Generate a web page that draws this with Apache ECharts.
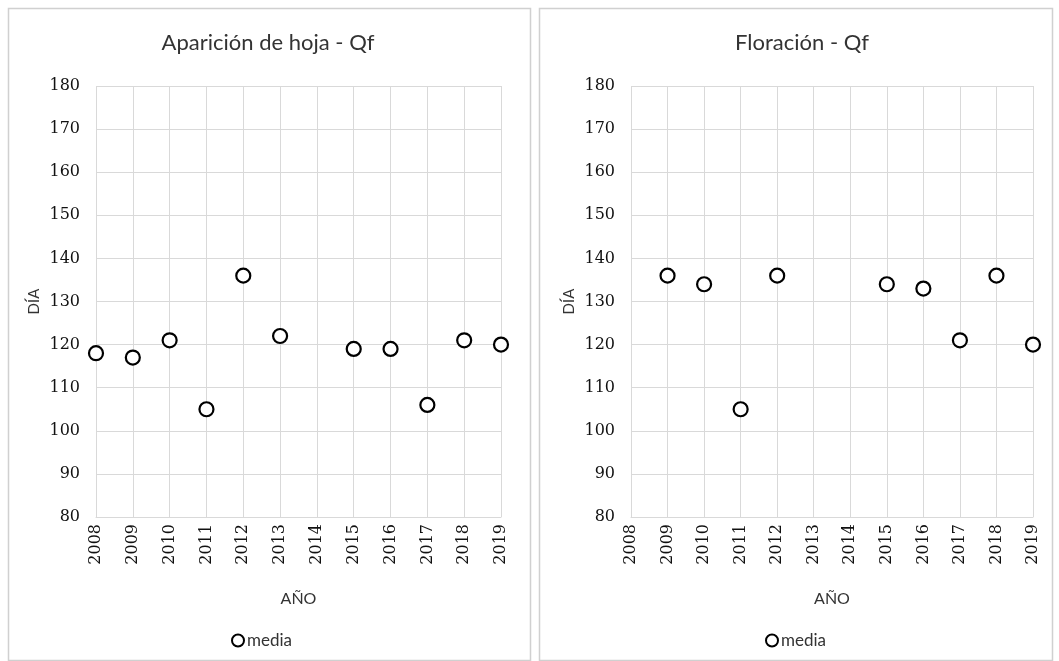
<!DOCTYPE html>
<html>
<head>
<meta charset="utf-8">
<script src="https://cdn.jsdelivr.net/npm/echarts@6/dist/echarts.min.js"></script>
<style>
  html, body { margin: 0; padding: 0; background: #ffffff; }
  #chart { width: 1059px; height: 661px; }
</style>
</head>
<body>
<div id="chart"></div>
<script>
// Years on the horizontal axis (shared by both panels)
const years = ['2008', '2009', '2010', '2011', '2012', '2013', '2014', '2015', '2016', '2017', '2018', '2019'];

// Mean day of year for leaf appearance ('-' = no record)
const hojaMedia = [118, 117, 121, 105, 136, 122, '-', 119, 119, 106, 121, 120];

// Mean day of year for flowering ('-' = no record)
const floracionMedia = ['-', 136, 134, 105, 136, '-', '-', 134, 133, 121, 136, 120];

// Panel titles and axis names
const titles = ['Aparición de hoja - Qf', 'Floración - Qf'];
const yName = 'DÍA';
const xName = 'AÑO';
const seriesName = 'media';

const labelFont = 'DejaVu Serif';
const textFont = 'Lato';
const gridColor = '#d9d9d9';

const panels = [
  { grid: { left: 96, right: 1059 - 501, top: 86, bottom: 661 - 517 }, data: hojaMedia, cx: 263, box: [8, 8, 522, 652] },
  { grid: { left: 631, right: 1059 - 1033, top: 86, bottom: 661 - 517 }, data: floracionMedia, cx: 797, box: [539, 8, 513, 652] }
];

const option = {
  backgroundColor: '#ffffff',
  animation: false,
  title: panels.map((p, i) => ({
    text: titles[i],
    left: p.cx, top: 27, textAlign: 'center',
    textStyle: { fontFamily: textFont, fontSize: 22, fontWeight: 'normal', color: '#333333' }
  })),
  graphic: panels.map(p => ({
    type: 'rect', silent: true, z: -1,
    shape: { x: p.box[0] + 0.5, y: p.box[1] + 0.5, width: p.box[2], height: p.box[3] },
    style: { fill: 'none', stroke: '#d0d0d0', lineWidth: 1.5 }
  })),
  legend: panels.map(p => ({
    data: [seriesName],
    left: p.cx - 37, top: 627,
    itemWidth: 12, itemHeight: 12, itemGap: 4,
    icon: 'circle',
    textStyle: { fontFamily: textFont, fontSize: 17, color: '#333333', padding: [0, 0, 0, -2] }
  })),
  grid: panels.map(p => Object.assign({ containLabel: false }, p.grid)),
  xAxis: panels.map((p, i) => ({
    type: 'category', gridIndex: i, data: years, boundaryGap: false,
    name: xName, nameLocation: 'middle', nameGap: 74,
    nameTextStyle: { fontFamily: textFont, fontSize: 16, color: '#333333' },
    axisLine: { show: true, lineStyle: { color: gridColor } },
    axisTick: { show: false },
    axisLabel: { rotate: 90, margin: 7, fontFamily: labelFont, fontSize: 16, color: '#111111' },
    splitLine: { show: true, lineStyle: { color: gridColor, width: 1 } }
  })),
  yAxis: panels.map((p, i) => ({
    type: 'value', gridIndex: i, min: 80, max: 180, interval: 10,
    name: yName, nameLocation: 'middle', nameGap: 54, nameRotate: 90,
    nameTextStyle: { fontFamily: textFont, fontSize: 15, color: '#333333' },
    axisLine: { show: false }, axisTick: { show: false },
    axisLabel: { margin: 16, fontFamily: labelFont, fontSize: 16, color: '#111111' },
    splitLine: { show: true, lineStyle: { color: gridColor, width: 1 } }
  })),
  series: panels.map((p, i) => ({
    name: seriesName, type: 'scatter', xAxisIndex: i, yAxisIndex: i,
    data: p.data, symbol: 'circle', symbolSize: 14,
    itemStyle: { color: '#ffffff', borderColor: '#000000', borderWidth: 2.2, opacity: 1 }
  }))
};

echarts.init(document.getElementById('chart'), null, { renderer: 'canvas' }).setOption(option);
</script>
</body>
</html>
